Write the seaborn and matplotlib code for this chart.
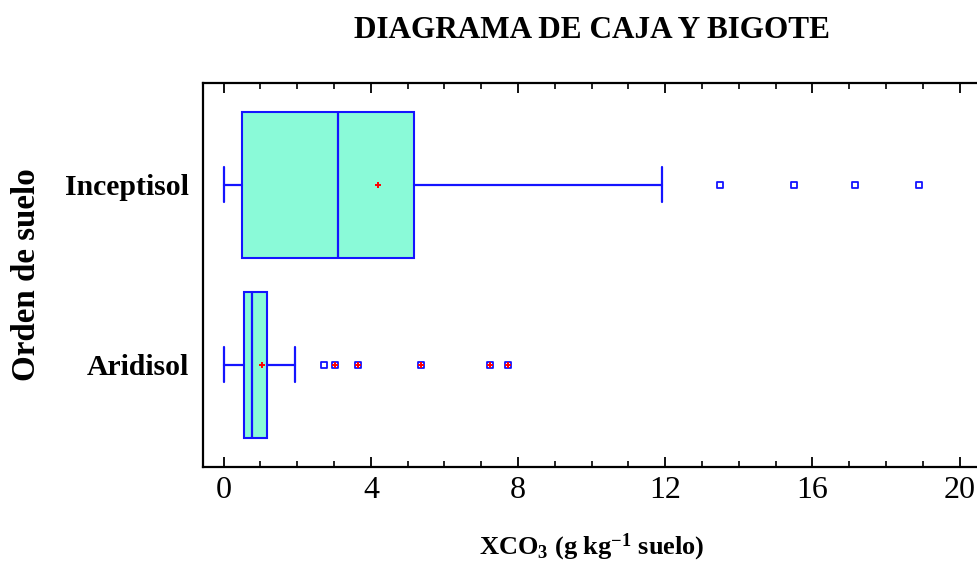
import matplotlib
matplotlib.use("Agg")
import matplotlib.pyplot as plt
import seaborn as sns
import pandas as pd

# ---- data ----
groups = ["Inceptisol", "Aridisol"]
whislo = [0.0, 0.0]
q1 = [0.50, 0.55]
medians = [3.10, 0.78]
q3 = [5.16, 1.17]
whishi = [11.92, 1.93]
means = [4.18, 1.05]
out_inceptisol = [13.49, 15.51, 17.15, 18.90]
out_aridisol = [2.73, 3.03, 3.65, 5.36, 7.24, 7.73]
far_inceptisol = [False, False, False, False]
far_aridisol = [False, True, True, True, True, True]
xticks = [0, 4, 8, 12, 16, 20]

sns.set_theme(style="white")
plt.rcParams["font.family"] = ["Liberation Serif", "DejaVu Serif"]
plt.rcParams["mathtext.fontset"] = "custom"
plt.rcParams["mathtext.rm"] = "Liberation Serif"
plt.rcParams["mathtext.bf"] = "Liberation Serif:bold"
plt.rcParams["mathtext.it"] = "Liberation Serif:italic"
plt.rcParams["text.color"] = "black"
plt.rcParams["xtick.color"] = "black"
plt.rcParams["ytick.color"] = "black"

BLUE = "#1414FF"
FILL = "#8AFAD8"
RED = "#FF0000"

fig = plt.figure(figsize=(9.78, 5.64), dpi=100)
ax = fig.add_axes([203 / 978, 97.3 / 564, 1 - 203 / 978, 383.7 / 564])

positions = list(range(len(groups)))
stats = []
for i, g in enumerate(groups):
    stats.append(dict(label=g, whislo=whislo[i], q1=q1[i], med=medians[i],
                      q3=q3[i], whishi=whishi[i], fliers=[]))

ax.bxp(stats, positions=positions, orientation="horizontal", widths=0.81,
       capwidths=0.195, patch_artist=True, showfliers=False,
       boxprops=dict(facecolor=FILL, edgecolor=BLUE, linewidth=1.5),
       medianprops=dict(color=BLUE, linewidth=1.6),
       whiskerprops=dict(color=BLUE, linewidth=1.6),
       capprops=dict(color=BLUE, linewidth=1.6))

# outliers
rows = []
for v, f in zip(out_inceptisol, far_inceptisol):
    rows.append(dict(group="Inceptisol", pos=0, value=v, far=f))
for v, f in zip(out_aridisol, far_aridisol):
    rows.append(dict(group="Aridisol", pos=1, value=v, far=f))
df_out = pd.DataFrame(rows)

sns.scatterplot(data=df_out, x="value", y="pos", marker="s", s=14,
                facecolor="white", edgecolor=BLUE, linewidth=1.3, ax=ax,
                legend=False, zorder=5)
sns.scatterplot(data=df_out[df_out["far"]], x="value", y="pos", marker="+",
                s=22, color=RED, linewidth=1.4, ax=ax, legend=False, zorder=6)

# means
df_mean = pd.DataFrame(dict(pos=positions, mean=means))
sns.scatterplot(data=df_mean, x="mean", y="pos", marker="+", s=22, color=RED,
                linewidth=1.4, ax=ax, legend=False, zorder=6)

ax.set_xlim(-0.5625, 20.5)
ax.set_ylim(1.567, -0.567)
ax.set_xticks(xticks)
ax.set_xticklabels([str(t) for t in xticks], fontsize=23)
ax.set_xticks(range(0, 21), minor=True)
ax.set_yticks(positions)
ax.set_yticklabels(groups, fontsize=21.4, fontweight="bold")
ax.set_xlabel("")
ax.set_ylabel("")

for side in ["left", "bottom", "top"]:
    ax.spines[side].set_visible(True)
    ax.spines[side].set_color("black")
    ax.spines[side].set_linewidth(1.6)
ax.spines["right"].set_visible(False)

ax.tick_params(axis="x", which="major", direction="in", length=7, width=1.3,
               color="black", top=True, bottom=True, pad=7, labelcolor="black")
ax.tick_params(axis="x", which="minor", direction="in", length=4, width=1.2,
               color="black", top=True, bottom=True)
ax.tick_params(axis="y", which="both", length=0, pad=10, labelcolor="black")

fig.text(592 / 978, 1 - 31 / 564, "DIAGRAMA DE CAJA Y BIGOTE", ha="center",
         va="center", fontsize=22.5, fontweight="bold", color="black")
fig.text(27 / 978, 1 - 275 / 564, "Orden de suelo", ha="center", va="center",
         rotation=90, fontsize=23.8, fontweight="bold", color="black")
fig.text(592 / 978, 1 - 547 / 564,
         r"$\mathbf{XCO_3}$" + " (g kg" + r"$^{\mathbf{-1}}$" + " suelo)",
         ha="center", va="center", fontsize=19, fontweight="bold", color="black")

fig.savefig("out.png", dpi=100)
